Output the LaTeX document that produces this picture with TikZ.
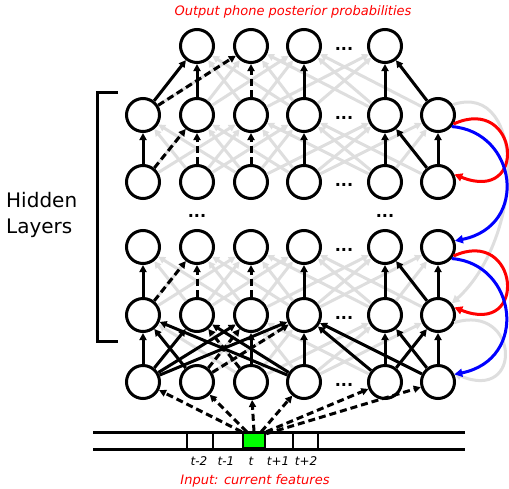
\documentclass[tikz,border=0pt]{standalone}
\usepackage{fontspec}
\setmainfont{DejaVu Sans}
\usetikzlibrary{arrows.meta}
\definecolor{meshgray}{gray}{0.87}
\definecolor{framegreen}{RGB}{0,255,0}

\begin{document}
\begin{tikzpicture}[x=1pt,y=1pt,
  unit/.style={circle,draw=black,line width=3pt,fill=white,minimum size=33pt,inner sep=0pt},
  ellip/.style={font=\fontsize{16}{16}\selectfont\bfseries,inner sep=0pt},
  tip/.style={-{Triangle[length=7pt,width=7pt]}},
  link/.style={line width=3pt,tip},
  dlink/.style={link,dash pattern=on 7pt off 4pt},
  meshline/.style={line width=3pt,meshgray,tip},
  recur/.style={line width=3pt,-{Triangle[length=8pt,width=8pt]}},
  caption/.style={text=red,font=\fontsize{13}{15}\selectfont\itshape,inner sep=0pt},
  framelabel/.style={font=\fontsize{12}{14}\selectfont\itshape,inner sep=0pt},
]
\useasboundingbox (0,0) rectangle (509,-488);

% ---- units: hidden rows 2..5, input-side row 6 ----
\foreach \c/\x in {1/143,2/197,3/251,4/304,5/385,6/438}{
  \foreach \r/\y in {2/115,3/182,4/247,5/315,6/382}{
    \node[unit] (n\r\c) at (\x,-\y) {};
  }
}
% output units
\foreach \c/\x in {2/197,3/251,4/304,5/385}{
  \node[unit] (o\c) at (\x,-46) {};
}

% ---- ellipses ----
\node[ellip] (dotso) at (344,-49) {...};
\foreach \r/\y in {2/115,3/182,4/247,5/315,6/382}{
  \node[ellip] (dots\r) at (344,-\y-3) {...};
}
\node[ellip] (gapl) at (197,-216) {...};
\node[ellip] (gapr) at (385,-216) {...};

% ---- grey background connections ----
\foreach \s/\d in {6/5,5/4,3/2}{
  \foreach \i in {1,...,6}{
    \foreach \j in {1,...,6}{
      \pgfmathtruncatemacro\dist{abs(\i-\j)}
      \ifnum\dist>0 \ifnum\dist<3
        \draw[meshline] (n\s\i) -- (n\d\j);
      \fi\fi
    }
  }
}
\foreach \i in {1,...,6}{
  \foreach \j in {2,...,5}{
    \pgfmathtruncatemacro\dist{abs(\i-\j)}
    \ifnum\dist>0 \ifnum\dist<3
      \draw[meshline] (n2\i) -- (o\j);
    \fi\fi
  }
}
% grey recurrent arcs
\draw[recur,meshgray] (n26.35) .. controls +(75,25) and +(72,65) .. (n56.40);
\draw[recur,meshgray] (n56.-25) .. controls +(65,20) and +(70,-30) .. (n66.30);

% ---- highlighted connections ----
% row 6 -> row 5
\foreach \a/\b in {1/1,1/2,1/3,1/4,2/1,3/3,4/1,4/2,4/4,5/4,5/5,5/6,6/4,6/5,6/6}{
  \draw[link] (n6\a) -- (n5\b);
}
\foreach \a/\b in {2/3,2/4,3/2}{
  \draw[dlink] (n6\a) -- (n5\b);
}
% row 5 -> row 4 and row 3 -> row 2
\foreach \s/\d in {5/4,3/2}{
  \foreach \a/\b in {1/1,4/4,5/5,6/6,6/5}{
    \draw[link] (n\s\a) -- (n\d\b);
  }
  \foreach \a/\b in {1/2,2/2,3/3}{
    \draw[dlink] (n\s\a) -- (n\d\b);
  }
}
% row 2 -> output
\foreach \a/\b in {1/2,2/2,4/4,5/5,6/5}{
  \draw[link] (n2\a) -- (o\b);
}
\foreach \a/\b in {1/3,3/3}{
  \draw[dlink] (n2\a) -- (o\b);
}

% ---- recurrent loops ----
\draw[recur,red]  (n26.-30) .. controls +(65,30) and +(75,-30) .. (n36.25);
\draw[recur,blue] (n26.-40) .. controls +(65,-5) and +(75,15) .. (n46.20);
\draw[recur,red]  (n46.-30) .. controls +(65,30) and +(75,-30) .. (n56.25);
\draw[recur,blue] (n46.-40) .. controls +(65,-5) and +(75,15) .. (n66.25);

% ---- bracket and side label ----
\draw[line width=3pt] (118,-92) -- (97,-92) -- (97,-341) -- (118,-341);
\node[anchor=west,align=left,inner sep=0pt,font=\fontsize{20}{26}\selectfont] (hidden) at (6,-215) {Hidden\\Layers};

% ---- input feature frames ----
\draw[line width=3pt] (93,-432) -- (465,-432);
\draw[line width=3pt] (93,-449) -- (465,-449);
\foreach \x in {187,213,293,318}{
  \draw[line width=2.5pt] (\x,-432) -- (\x,-449);
}
\node[draw,line width=2.5pt,fill=framegreen,minimum width=22pt,minimum height=15pt,inner sep=0pt] (gbox) at (254,-440.5) {};

\draw[dlink] (gbox.north west) -- (n61);
\draw[dlink] ([xshift=5pt]gbox.north west) -- (n62);
\draw[dlink] (gbox.north) -- (n63);
\draw[dlink] ([xshift=-5pt]gbox.north east) -- (n64);
\draw[dlink] (gbox.north east) -- (n65);
\draw[dlink] ([yshift=-2pt]gbox.north east) -- (n66);

\node[framelabel] (tm2) at (199,-461) {t-2};
\node[framelabel] (tm1) at (226,-461) {t-1};
\node[framelabel] (t0)  at (251,-461) {t};
\node[framelabel] (tp1) at (278,-461) {t+1};
\node[framelabel] (tp2) at (306,-461) {t+2};

% ---- captions ----
\node[caption] (title) at (293,-12) {Output phone posterior probabilities};
\node[caption] (inlabel) at (255,-481) {Input: current features};
\end{tikzpicture}
\end{document}
